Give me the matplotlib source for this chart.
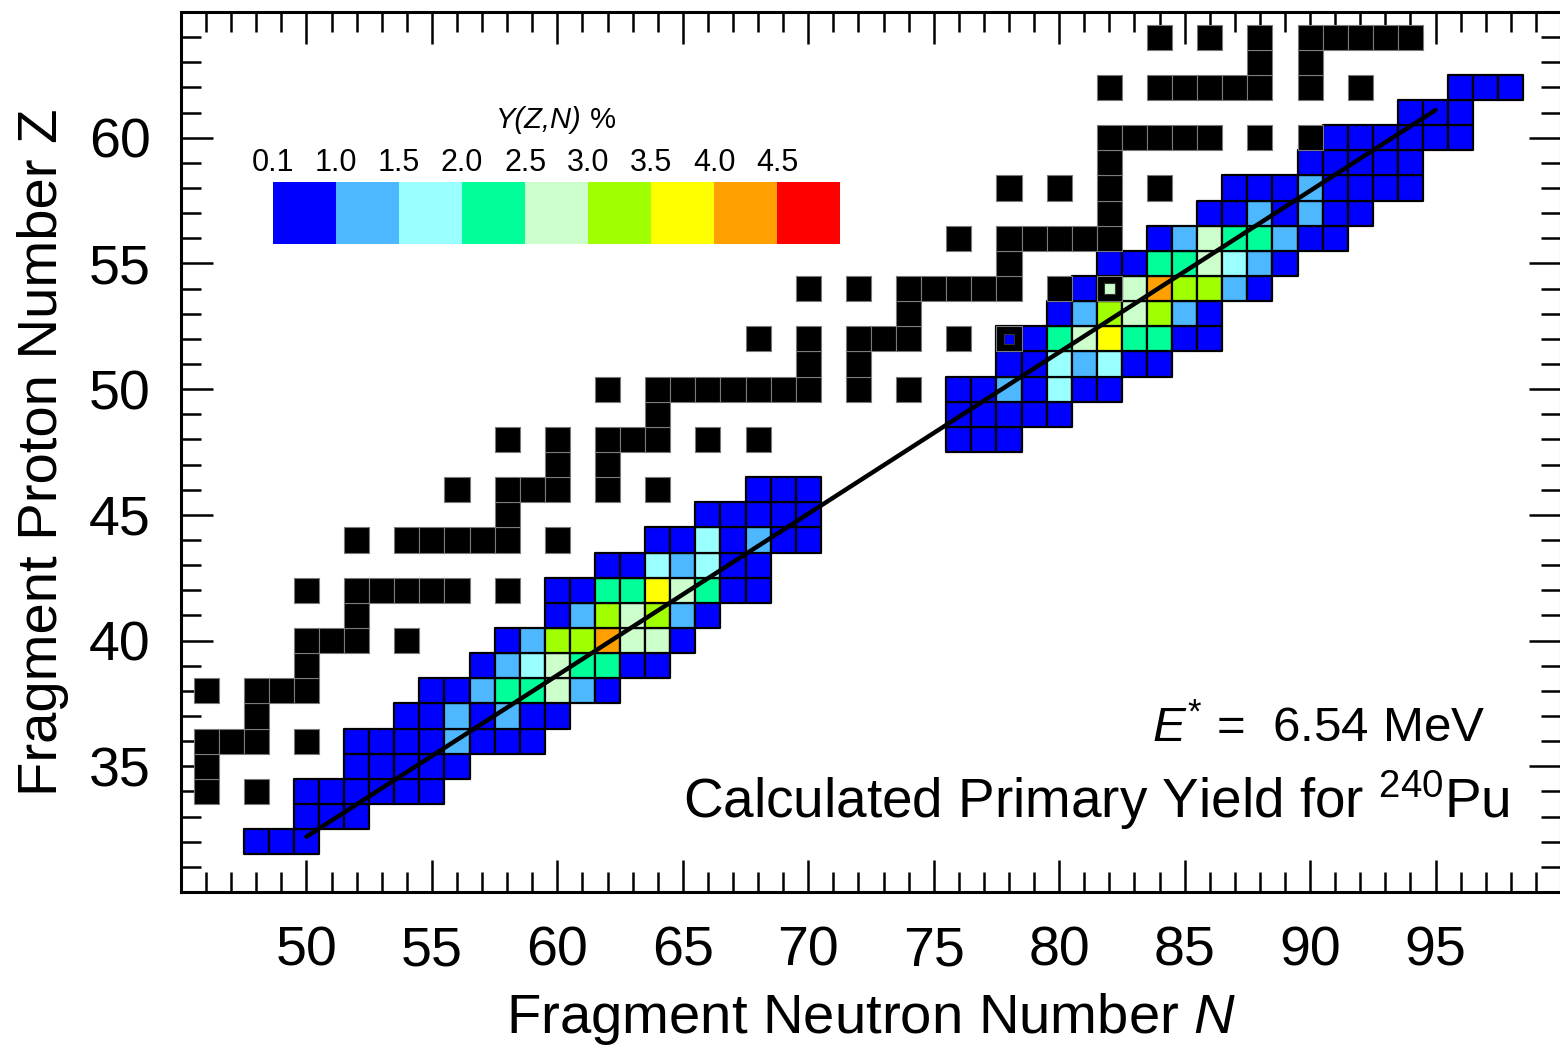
import numpy as np
import matplotlib
matplotlib.use("Agg")
import matplotlib.pyplot as plt
from matplotlib.colors import ListedColormap, BoundaryNorm
from matplotlib.patches import Rectangle
from matplotlib.collections import PatchCollection
from matplotlib.cm import ScalarMappable
from matplotlib.ticker import MultipleLocator

plt.rcParams['font.family'] = ['Liberation Sans', 'DejaVu Sans']
plt.rcParams['mathtext.fontset'] = 'custom'
plt.rcParams['mathtext.rm'] = 'Liberation Sans'
plt.rcParams['mathtext.it'] = 'Liberation Sans:italic'

# colour scale of Y(Z,N) in %
levels = [0.1, 1.0, 1.5, 2.0, 2.5, 3.0, 3.5, 4.0, 4.5, 5.0]
level_labels = ["0.1", "1.0", "1.5", "2.0", "2.5", "3.0", "3.5", "4.0", "4.5"]
level_colors = ["#0000ff", "#4db8ff", "#99ffff", "#00ff99", "#ccffcc",
                "#a0ff00", "#ffff00", "#ffa000", "#ff0000"]

# primary yield, one row per Z: (first N, yields in %)
yield_rows = {
    32: (48, [0.5, 0.5, 0.5]),
    33: (50, [0.5, 0.5, 0.5]),
    34: (50, [0.5, 0.5, 0.5, 0.5, 0.5, 0.5]),
    35: (52, [0.5, 0.5, 0.5, 0.5, 0.5]),
    36: (52, [0.5, 0.5, 0.5, 0.5, 1.2, 0.5, 0.5, 0.5]),
    37: (54, [0.5, 0.5, 1.2, 0.5, 1.2, 0.5, 0.5]),
    38: (55, [0.5, 0.5, 1.2, 2.2, 2.2, 2.7, 1.2, 0.5]),
    39: (57, [0.5, 1.2, 1.7, 2.7, 2.2, 2.2, 0.5, 0.5]),
    40: (58, [0.5, 1.2, 3.2, 3.2, 4.2, 2.7, 2.7, 0.5]),
    41: (60, [0.5, 1.2, 3.2, 2.7, 3.2, 1.2, 0.5]),
    42: (60, [0.5, 0.5, 2.2, 2.2, 3.7, 2.7, 2.2, 0.5, 0.5]),
    43: (62, [0.5, 0.5, 1.7, 1.2, 1.7, 0.5, 0.5]),
    44: (64, [0.5, 0.5, 1.7, 0.5, 1.2, 0.5, 0.5]),
    45: (66, [0.5, 0.5, 0.5, 0.5, 0.5]),
    46: (68, [0.5, 0.5, 0.5]),
    48: (76, [0.5, 0.5, 0.5]),
    49: (76, [0.5, 0.5, 0.5, 0.5, 0.5]),
    50: (76, [0.5, 0.5, 1.2, 0.5, 1.7, 0.5, 0.5]),
    51: (78, [0.5, 0.5, 1.7, 1.2, 1.7, 0.5, 0.5]),
    52: (78, [0.5, 0.5, 2.2, 2.7, 3.7, 2.2, 2.2, 0.5, 0.5]),
    53: (80, [0.5, 1.2, 3.2, 2.7, 3.2, 1.2, 0.5]),
    54: (81, [0.5, 2.7, 2.7, 4.2, 3.2, 3.2, 1.2, 0.5]),
    55: (82, [0.5, 0.5, 2.2, 2.2, 2.7, 1.7, 1.2, 0.5]),
    56: (84, [0.5, 1.2, 2.7, 2.2, 2.2, 1.2, 0.5, 0.5]),
    57: (86, [0.5, 0.5, 1.2, 0.5, 1.2, 0.5, 0.5]),
    58: (87, [0.5, 0.5, 0.5, 1.2, 0.5, 0.5, 0.5, 0.5]),
    59: (90, [0.5, 0.5, 0.5, 0.5, 0.5]),
    60: (91, [0.5, 0.5, 0.5, 0.5, 0.5, 0.5]),
    61: (94, [0.5, 0.5, 0.5]),
    62: (96, [0.5, 0.5, 0.5]),
}

# stable nuclei (black squares): Z -> list of N
stable = {
    34: [46, 48],
    35: [46],
    36: [46, 47, 48, 50],
    37: [48],
    38: [46, 48, 49, 50],
    39: [50],
    40: [50, 51, 52, 54],
    41: [52],
    42: [50, 52, 53, 54, 55, 56, 58],
    44: [52, 54, 55, 56, 57, 58, 60],
    45: [58],
    46: [56, 58, 59, 60, 62, 64],
    47: [60, 62],
    48: [58, 60, 62, 63, 64, 66, 68],
    49: [64],
    50: [62, 64, 65, 66, 67, 68, 69, 70, 72, 74],
    51: [70, 72],
    52: [68, 70, 72, 73, 74, 76, 78],
    53: [74],
    54: [70, 72, 74, 75, 76, 77, 78, 80, 82],
    55: [78],
    56: [76, 78, 79, 80, 81, 82],
    57: [82],
    58: [78, 80, 82, 84],
    59: [82],
    60: [82, 83, 84, 85, 86, 88, 90],
    62: [82, 84, 85, 86, 87, 88, 90, 92],
    63: [88, 90],
    64: [84, 86, 88, 90, 91, 92, 93, 94],
}

# straight line through the yield ridge
line_N = [50, 95]
line_Z = [32.2, 61.1]

cmap = ListedColormap(level_colors)
norm = BoundaryNorm(levels, cmap.N)

fig = plt.figure(figsize=(15.6, 10.49), dpi=100)
ax = fig.add_axes([181 / 1560, 1 - 892 / 1049, 1380 / 1560, 880 / 1049])
ax.set_xlim(45, 100)
ax.set_ylim(30, 65)

ycells = {}
for z, (n0, vals) in yield_rows.items():
    for i, v in enumerate(vals):
        ycells[(n0 + i, z)] = v

rects = [Rectangle((n - 0.5, z - 0.5), 1, 1) for (n, z) in ycells]
vals = np.array(list(ycells.values()))
pc = PatchCollection(rects, facecolors=cmap(norm(vals)), edgecolors='k',
                     linewidths=1.6, zorder=2)
ax.add_collection(pc)

srects = []
inner = []
inner_vals = []
for z, ns in stable.items():
    for n in ns:
        srects.append(Rectangle((n - 0.5, z - 0.5), 1, 1))
        if (n, z) in ycells:
            inner.append(Rectangle((n - 0.21, z - 0.21), 0.42, 0.42))
            inner_vals.append(ycells[(n, z)])
ax.add_collection(PatchCollection(srects, facecolors='k', edgecolors='#7a7a7a',
                                  linewidths=0.8, zorder=3))
ax.add_collection(PatchCollection(inner, facecolors=cmap(norm(np.array(inner_vals))),
                                  edgecolors='#333333', linewidths=0.8, zorder=4))

ax.plot(line_N, line_Z, color='k', lw=3.2, solid_capstyle='round', zorder=5)

ax.set_xticks(range(50, 96, 5))
ax.set_yticks(range(35, 61, 5))
ax.xaxis.set_minor_locator(MultipleLocator(1))
ax.yaxis.set_minor_locator(MultipleLocator(1))
ax.tick_params(which='both', direction='in', top=True, right=True, width=1.8,
               labelsize=40)
ax.tick_params(which='major', length=23)
ax.tick_params(which='minor', length=14.5)
ax.tick_params(axis='x', pad=24)
ax.tick_params(axis='y', pad=22)
for s in ax.spines.values():
    s.set_linewidth(2.2)

ax.set_xlabel('Fragment Neutron Number $N$', fontsize=40.5, labelpad=10)
ax.set_ylabel('Fragment Proton Number Z', fontsize=40.5, labelpad=14)

ax.text(0.945, 0.170, r'$E^{*}$ =  6.54 MeV', transform=ax.transAxes,
        ha='right', va='baseline', fontsize=35.5, zorder=6)
ax.text(0.963, 0.084, r'Calculated Primary Yield for $^{240}$Pu',
        transform=ax.transAxes, ha='right', va='baseline', fontsize=39.5, zorder=6)

# colour legend
cax = ax.inset_axes([0.0667, 0.7364, 0.411, 0.0705])
cb = fig.colorbar(ScalarMappable(norm=norm, cmap=cmap), cax=cax,
                  orientation='horizontal', ticks=levels[:-1])
cb.outline.set_visible(False)
cax.minorticks_off()
cax.xaxis.set_ticks_position('top')
cax.set_xticklabels(level_labels)
cax.tick_params(which='both', length=0, labelsize=22, pad=3)
cax.text(0.545, 2.0, 'Y(Z,N)', transform=cax.transAxes, ha='right',
         va='center', fontsize=21, fontstyle='italic')
cax.text(0.545, 2.0, ' %', transform=cax.transAxes, ha='left',
         va='center', fontsize=21)

fig.savefig('out.png', dpi=100)
